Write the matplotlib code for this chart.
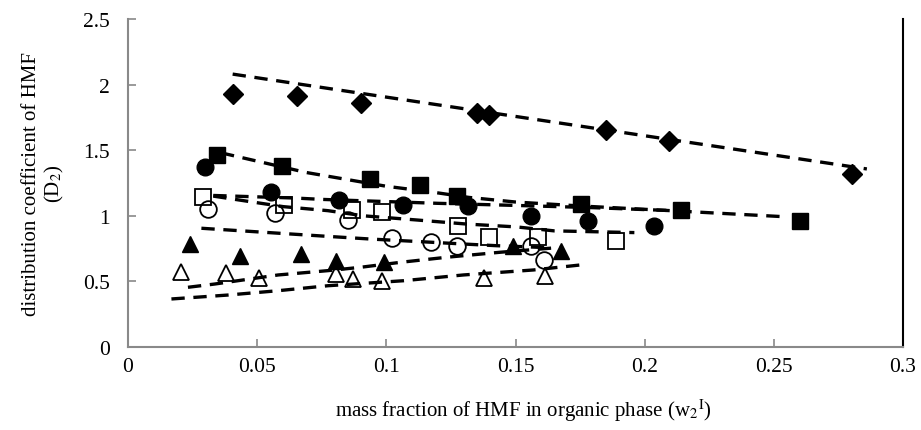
import matplotlib
matplotlib.use("Agg")
import matplotlib.pyplot as plt

plt.rcParams['font.family'] = ['Liberation Serif', 'DejaVu Serif']
plt.rcParams['mathtext.fontset'] = 'stix'

# measured points, one list pair per symbol
diamond_x = [0.0408, 0.0653, 0.0901, 0.135, 0.1397, 0.185, 0.2095, 0.2804]
diamond_y = [1.93, 1.91, 1.86, 1.78, 1.77, 1.655, 1.57, 1.32]

fsquare_x = [0.0346, 0.0595, 0.0937, 0.113, 0.1275, 0.1754, 0.2139, 0.2601]
fsquare_y = [1.465, 1.377, 1.283, 1.235, 1.153, 1.09, 1.047, 0.963]

fcircle_x = [0.0297, 0.0555, 0.0817, 0.1066, 0.1317, 0.1559, 0.178, 0.2037]
fcircle_y = [1.37, 1.179, 1.123, 1.082, 1.072, 1.001, 0.963, 0.925]

osquare_x = [0.029, 0.0604, 0.0866, 0.0984, 0.1278, 0.1397, 0.1587, 0.1887]
osquare_y = [1.141, 1.082, 1.047, 1.026, 0.925, 0.838, 0.841, 0.81]

ocircle_x = [0.031, 0.0568, 0.0853, 0.1023, 0.1172, 0.1272, 0.1559, 0.1611]
ocircle_y = [1.052, 1.021, 0.968, 0.828, 0.798, 0.772, 0.767, 0.666]

ftri_x = [0.0241, 0.0434, 0.0668, 0.0804, 0.0991, 0.149, 0.1676]
ftri_y = [0.785, 0.691, 0.709, 0.658, 0.645, 0.772, 0.734]

otri_x = [0.0204, 0.0381, 0.0507, 0.0804, 0.0872, 0.0982, 0.1379, 0.1614]
otri_y = [0.569, 0.564, 0.523, 0.556, 0.518, 0.501, 0.523, 0.544]

# dashed model curves
c_diamond_x = [0.0405, 0.09, 0.286]
c_diamond_y = [2.08, 1.934, 1.357]

c_fsquare_x = [0.036, 0.069, 0.100, 0.118, 0.132, 0.150, 0.175, 0.214, 0.254]
c_fsquare_y = [1.48, 1.33, 1.225, 1.18, 1.14, 1.105, 1.075, 1.035, 0.993]

c_fcircle_x = [0.033, 0.065, 0.075, 0.12, 0.152, 0.18, 0.21]
c_fcircle_y = [1.155, 1.135, 1.125, 1.095, 1.078, 1.062, 1.04]

c_osquare_x = [0.033, 0.06, 0.0774, 0.0911, 0.1118, 0.1311, 0.1505, 0.165, 0.196]
c_osquare_y = [1.15, 1.07, 1.039, 1.0, 0.968, 0.937, 0.915, 0.885, 0.872]

c_ocircle_x = [0.0284, 0.0774, 0.0937, 0.113, 0.1298, 0.1427, 0.163]
c_ocircle_y = [0.905, 0.843, 0.823, 0.803, 0.785, 0.772, 0.757]

c_ftri_x = [0.0232, 0.0336, 0.0581, 0.0774, 0.0898, 0.1053, 0.1234, 0.144, 0.168]
c_ftri_y = [0.455, 0.48, 0.549, 0.582, 0.607, 0.645, 0.684, 0.722, 0.76]

c_otri_x = [0.0168, 0.0387, 0.0581, 0.0774, 0.1066, 0.1298, 0.1569, 0.175]
c_otri_y = [0.366, 0.396, 0.429, 0.467, 0.505, 0.549, 0.587, 0.625]

xticks = [0, 0.05, 0.1, 0.15, 0.2, 0.25, 0.3]
xticklabels = ['0', '0.05', '0.1', '0.15', '0.2', '0.25', '0.3']
yticks = [0, 0.5, 1, 1.5, 2, 2.5]
yticklabels = ['0', '0.5', '1', '1.5', '2', '2.5']

fig = plt.figure(figsize=(9.21, 4.31), dpi=100)
ax = fig.add_axes([0.139, 0.1926, 0.8415, 0.761])

for cx, cy in [(c_diamond_x, c_diamond_y), (c_fsquare_x, c_fsquare_y),
               (c_fcircle_x, c_fcircle_y), (c_osquare_x, c_osquare_y),
               (c_ocircle_x, c_ocircle_y), (c_ftri_x, c_ftri_y),
               (c_otri_x, c_otri_y)]:
    ax.plot(cx, cy, color='black', lw=2.4, dashes=(4, 2.6), zorder=2)

ms = 12
ax.plot(diamond_x, diamond_y, 'D', color='black', ms=10.5, ls='none', zorder=3)
ax.plot(fsquare_x, fsquare_y, 's', color='black', ms=ms, ls='none', zorder=3)
ax.plot(fcircle_x, fcircle_y, 'o', color='black', ms=ms, ls='none', zorder=3)
ax.plot(osquare_x, osquare_y, 's', mfc='none', mec='black', mew=1.3, ms=ms, ls='none', zorder=3)
ax.plot(ocircle_x, ocircle_y, 'o', mfc='none', mec='black', mew=1.3, ms=ms, ls='none', zorder=3)
ax.plot(ftri_x, ftri_y, '^', color='black', ms=ms, ls='none', zorder=3)
ax.plot(otri_x, otri_y, '^', mfc='none', mec='black', mew=1.3, ms=ms, ls='none', zorder=3)

ax.set_xlim(0, 0.3)
ax.set_ylim(0, 2.5)
ax.set_xticks(xticks)
ax.set_xticklabels(xticklabels)
ax.set_yticks(yticks)
ax.set_yticklabels(yticklabels)

ax.spines['top'].set_visible(False)
for s in ['left', 'bottom']:
    ax.spines[s].set_color('#898989')
    ax.spines[s].set_linewidth(1.5)
ax.spines['right'].set_color('black')
ax.spines['right'].set_linewidth(1.5)

ax.tick_params(axis='both', direction='in', length=6, width=1.2, color='#898989',
               labelsize=15.5)
ax.tick_params(axis='y', pad=13)
ax.tick_params(axis='x', pad=7)

ax.set_xlabel('mass fraction of HMF in organic phase (w$_2$$^{\\mathrm{I}}$)', fontsize=15)
ax.set_ylabel('distribution coefficient of HMF\n(D$_2$)', fontsize=15,
              linespacing=1.15)
ax.xaxis.set_label_coords(0.51, -0.15)
ax.yaxis.set_label_coords(-0.08, 0.5)

fig.savefig('out.png', dpi=100)
